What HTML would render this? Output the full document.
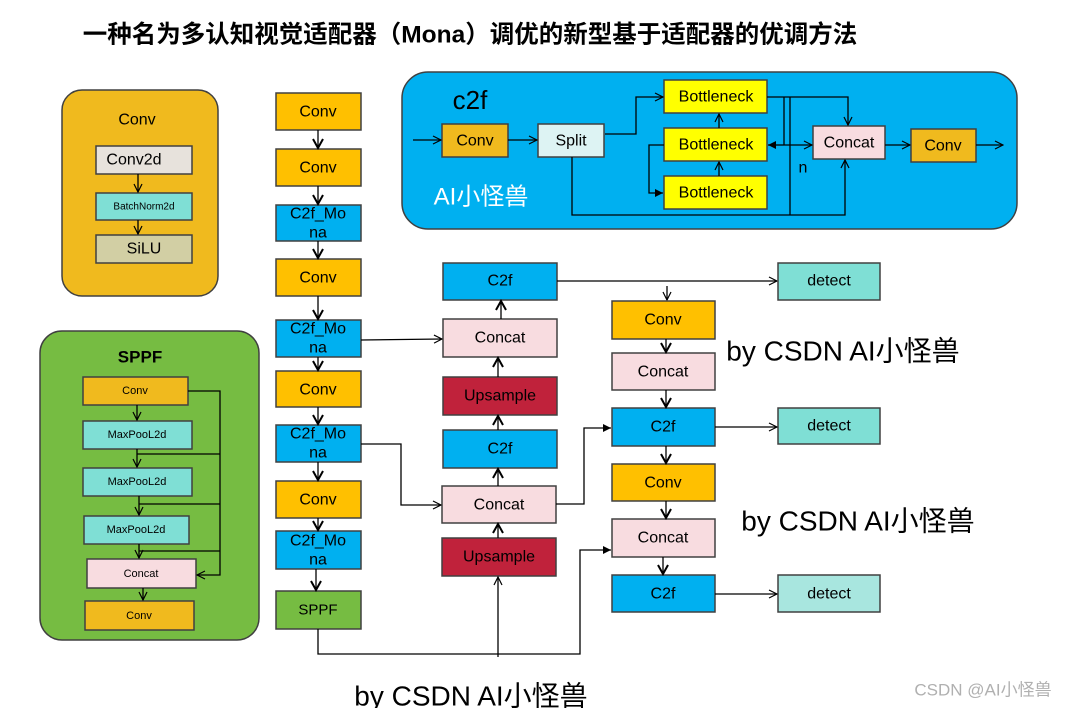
<!DOCTYPE html>
<html><head><meta charset="utf-8"><style>
html,body{margin:0;padding:0;background:#fff;}
svg{display:block;font-family:"Liberation Sans","Noto Sans CJK SC",sans-serif;}
.b{stroke:#404040;stroke-width:1.5;}
.l{stroke:#000;stroke-width:1.3;fill:none;}
text{text-anchor:middle;dominant-baseline:central;fill:#000;}
</style></head><body>
<svg width="1066" height="708" viewBox="0 0 1066 708" xmlns="http://www.w3.org/2000/svg">
<defs>
<marker id="o" markerWidth="10" markerHeight="10" refX="9" refY="5" orient="auto" markerUnits="userSpaceOnUse"><path d="M1,1 L9,5 L1,9" fill="none" stroke="#000" stroke-width="1.2"/></marker>
<marker id="f" markerWidth="10" markerHeight="10" refX="9" refY="5" orient="auto" markerUnits="userSpaceOnUse"><path d="M1,1 L9,5 L1,9z" fill="#000"/></marker>
<marker id="t" markerWidth="12" markerHeight="12" refX="10" refY="6" orient="auto" markerUnits="userSpaceOnUse"><path d="M1,1 L10,6 L1,11" fill="none" stroke="#000" stroke-width="2"/></marker>
</defs>
<text x="470" y="35" font-size="24.5" font-weight="bold">一种名为多认知视觉适配器（Mona）调优的新型基于适配器的优调方法</text>

<!-- Conv panel -->
<rect x="62" y="90" width="156" height="206" rx="20" fill="#F0BA1E" class="b"/>
<text x="137" y="120" font-size="16">Conv</text>
<rect x="96" y="146" width="96" height="28" fill="#E7E2DC" class="b"/><text x="134" y="160" font-size="16">Conv2d</text>
<rect x="96" y="193" width="96" height="27" fill="#7FDFD5" class="b"/><text x="144" y="207" font-size="10">BatchNorm2d</text>
<rect x="96" y="235" width="96" height="28" fill="#D2CFA4" class="b"/><text x="144" y="249" font-size="16">SiLU</text>
<line x1="138" y1="174" x2="138" y2="192" class="l" marker-end="url(#o)"/>
<line x1="138" y1="220" x2="138" y2="234" class="l" marker-end="url(#o)"/>

<!-- SPPF panel -->
<rect x="40" y="331" width="219" height="309" rx="22" fill="#76BC42" class="b"/>
<text x="140" y="357" font-size="17" font-weight="bold" fill="#1a1a1a">SPPF</text>
<rect x="83" y="377" width="105" height="28" fill="#F0BA1E" class="b"/><text x="135" y="391" font-size="11">Conv</text>
<rect x="83" y="421" width="109" height="28" fill="#7FDFD5" class="b"/><text x="137" y="435" font-size="11">MaxPooL2d</text>
<rect x="83" y="468" width="109" height="28" fill="#7FDFD5" class="b"/><text x="137" y="482" font-size="11">MaxPooL2d</text>
<rect x="84" y="516" width="105" height="28" fill="#7FDFD5" class="b"/><text x="136" y="530" font-size="11">MaxPooL2d</text>
<rect x="87" y="559" width="109" height="29" fill="#F8DCE0" class="b"/><text x="141" y="574" font-size="11">Concat</text>
<rect x="85" y="601" width="109" height="29" fill="#F0BA1E" class="b"/><text x="139" y="616" font-size="11">Conv</text>
<polyline points="188,391 220,391 220,575 197,575" class="l" marker-end="url(#o)"/>
<line x1="137" y1="405" x2="137" y2="420" class="l" marker-end="url(#o)"/>
<line x1="137" y1="449" x2="137" y2="467" class="l" marker-end="url(#o)"/>
<line x1="139" y1="496" x2="139" y2="515" class="l" marker-end="url(#o)"/>
<line x1="139" y1="544" x2="139" y2="558" class="l" marker-end="url(#o)"/>
<line x1="143" y1="588" x2="143" y2="600" class="l" marker-end="url(#o)"/>
<line x1="137" y1="454" x2="220" y2="454" class="l"/>
<line x1="139" y1="504" x2="220" y2="504" class="l"/>
<line x1="139" y1="551" x2="220" y2="551" class="l"/>

<!-- main column -->
<g font-size="16">
<rect x="276" y="93" width="85" height="37" fill="#FFC000" class="b"/><text x="318" y="112">Conv</text>
<rect x="276" y="149" width="85" height="37" fill="#FFC000" class="b"/><text x="318" y="168">Conv</text>
<rect x="276" y="205" width="85" height="36" fill="#00B0F0" class="b"/><text x="318" y="214">C2f_Mo</text><text x="318" y="233">na</text>
<rect x="276" y="259" width="85" height="37" fill="#FFC000" class="b"/><text x="318" y="278">Conv</text>
<rect x="276" y="320" width="85" height="37" fill="#00B0F0" class="b"/><text x="318" y="329">C2f_Mo</text><text x="318" y="348">na</text>
<rect x="276" y="371" width="85" height="36" fill="#FFC000" class="b"/><text x="318" y="390">Conv</text>
<rect x="276" y="425" width="85" height="37" fill="#00B0F0" class="b"/><text x="318" y="434">C2f_Mo</text><text x="318" y="453">na</text>
<rect x="276" y="481" width="85" height="37" fill="#FFC000" class="b"/><text x="318" y="500">Conv</text>
<rect x="276" y="531" width="85" height="38" fill="#00B0F0" class="b"/><text x="318" y="541">C2f_Mo</text><text x="318" y="560">na</text>
<rect x="276" y="591" width="85" height="38" fill="#76BC42" class="b"/><text x="318" y="610" font-size="15">SPPF</text>
</g>
<g class="l" stroke-width="2">
<line x1="318" y1="130" x2="318" y2="148" marker-end="url(#t)"/>
<line x1="318" y1="186" x2="318" y2="204" marker-end="url(#t)"/>
<line x1="318" y1="241" x2="318" y2="258" marker-end="url(#t)"/>
<line x1="318" y1="296" x2="318" y2="319" marker-end="url(#t)"/>
<line x1="318" y1="357" x2="318" y2="370" marker-end="url(#t)"/>
<line x1="318" y1="407" x2="318" y2="424" marker-end="url(#t)"/>
<line x1="318" y1="462" x2="318" y2="480" marker-end="url(#t)"/>
<line x1="318" y1="518" x2="318" y2="530" marker-end="url(#t)"/>
<line x1="316" y1="569" x2="316" y2="590" marker-end="url(#t)"/>
</g>

<!-- middle column -->
<g font-size="16">
<rect x="443" y="263" width="114" height="37" fill="#00B0F0" class="b"/><text x="500" y="281">C2f</text>
<rect x="443" y="319" width="114" height="38" fill="#F8DCE0" class="b"/><text x="500" y="338">Concat</text>
<rect x="443" y="377" width="114" height="38" fill="#C0223B" class="b"/><text x="500" y="396">Upsample</text>
<rect x="443" y="430" width="114" height="38" fill="#00B0F0" class="b"/><text x="500" y="449">C2f</text>
<rect x="442" y="486" width="114" height="37" fill="#F8DCE0" class="b"/><text x="499" y="505">Concat</text>
<rect x="442" y="538" width="114" height="38" fill="#C0223B" class="b"/><text x="499" y="557">Upsample</text>
</g>
<g class="l" stroke-width="2">
<line x1="501" y1="319" x2="501" y2="301" marker-end="url(#t)"/>
<line x1="498" y1="377" x2="498" y2="358" marker-end="url(#t)"/>
<line x1="498" y1="430" x2="498" y2="416" marker-end="url(#t)"/>
<line x1="498" y1="486" x2="498" y2="469" marker-end="url(#t)"/>
<line x1="498" y1="538" x2="498" y2="524" marker-end="url(#t)"/>
</g>
<line x1="361" y1="340" x2="442" y2="339" class="l" marker-end="url(#o)"/>
<polyline points="361,444 401,444 401,505 441,505" class="l" marker-end="url(#o)"/>
<polyline points="318,629 318,654 580,654 580,550 611,550" class="l" stroke="#555" marker-end="url(#f)"/>
<line x1="498" y1="657" x2="498" y2="577" class="l" marker-end="url(#o)"/>
<polyline points="556,504 584,504 584,428 611,428" class="l" stroke="#555" marker-end="url(#f)"/>
<line x1="557" y1="281" x2="777" y2="281" class="l" marker-end="url(#o)"/>
<line x1="667" y1="286" x2="667" y2="300" class="l" marker-end="url(#o)"/>

<!-- right column -->
<g font-size="16">
<rect x="612" y="301" width="103" height="38" fill="#FFC000" class="b"/><text x="663" y="320">Conv</text>
<rect x="612" y="353" width="103" height="37" fill="#F8DCE0" class="b"/><text x="663" y="372">Concat</text>
<rect x="612" y="408" width="103" height="38" fill="#00B0F0" class="b"/><text x="663" y="427">C2f</text>
<rect x="612" y="464" width="103" height="37" fill="#FFC000" class="b"/><text x="663" y="483">Conv</text>
<rect x="612" y="519" width="103" height="38" fill="#F8DCE0" class="b"/><text x="663" y="538">Concat</text>
<rect x="612" y="575" width="103" height="37" fill="#00B0F0" class="b"/><text x="663" y="594">C2f</text>
<rect x="778" y="263" width="102" height="37" fill="#7FDFD5" class="b"/><text x="829" y="281">detect</text>
<rect x="778" y="408" width="102" height="36" fill="#7FDFD5" class="b"/><text x="829" y="426">detect</text>
<rect x="778" y="575" width="102" height="37" fill="#A8E6DF" class="b"/><text x="829" y="594">detect</text>
</g>
<g class="l" stroke-width="2">
<line x1="666" y1="339" x2="666" y2="352" marker-end="url(#t)"/>
<line x1="666" y1="390" x2="666" y2="407" marker-end="url(#t)"/>
<line x1="666" y1="446" x2="666" y2="463" marker-end="url(#t)"/>
<line x1="666" y1="501" x2="666" y2="518" marker-end="url(#t)"/>
<line x1="663" y1="557" x2="663" y2="574" marker-end="url(#t)"/>
</g>
<line x1="715" y1="427" x2="777" y2="427" class="l" marker-end="url(#o)"/>
<line x1="715" y1="594" x2="777" y2="594" class="l" marker-end="url(#o)"/>

<text x="843" y="351" font-size="28">by CSDN AI小怪兽</text>
<text x="858" y="521" font-size="28">by CSDN AI小怪兽</text>
<text x="471" y="696" font-size="28">by CSDN AI小怪兽</text>
<text x="983" y="690" font-size="17" style="fill:#b0b0b0">CSDN @AI小怪兽</text>

<!-- c2f panel -->
<rect x="402" y="72" width="615" height="157" rx="26" fill="#00B0F0" class="b"/>
<text x="470" y="100" font-size="26">c2f</text>
<text x="481" y="197" font-size="24" style="fill:#fff">AI小怪兽</text>
<g font-size="16">
<rect x="442" y="124" width="66" height="33" fill="#F0BA1E" class="b"/><text x="475" y="141">Conv</text>
<rect x="538" y="124" width="66" height="33" fill="#DDF3F3" class="b"/><text x="571" y="141">Split</text>
<rect x="664" y="80" width="103" height="33" fill="#FFFF00" class="b"/><text x="716" y="97">Bottleneck</text>
<rect x="664" y="128" width="103" height="33" fill="#FFFF00" class="b"/><text x="716" y="145">Bottleneck</text>
<rect x="664" y="176" width="103" height="33" fill="#FFFF00" class="b"/><text x="716" y="193">Bottleneck</text>
<rect x="813" y="126" width="72" height="33" fill="#F8DCE0" class="b"/><text x="849" y="143">Concat</text>
<rect x="911" y="129" width="65" height="33" fill="#F0BA1E" class="b"/><text x="943" y="146">Conv</text>
<text x="803" y="168">n</text>
</g>
<line x1="413" y1="140" x2="441" y2="140" class="l" marker-end="url(#o)"/>
<line x1="508" y1="140" x2="537" y2="140" class="l" marker-end="url(#o)"/>
<polyline points="605,134 636,134 636,97 663,97" class="l" marker-end="url(#o)"/>
<polyline points="767,97 848,97 848,125" class="l" marker-end="url(#o)"/>
<line x1="784" y1="97" x2="784" y2="145" class="l"/>
<line x1="790" y1="97" x2="790" y2="215" class="l"/>
<line x1="784" y1="145" x2="768" y2="145" class="l" marker-end="url(#f)"/>
<line x1="784" y1="145" x2="812" y2="145" class="l" marker-end="url(#o)"/>
<polyline points="572,157 572,215 845,215 845,160" class="l" marker-end="url(#o)"/>
<polyline points="664,145 649,145 649,193 663,193" class="l" marker-end="url(#f)"/>
<line x1="719" y1="176" x2="719" y2="162" class="l" marker-end="url(#o)"/>
<line x1="719" y1="128" x2="719" y2="114" class="l" marker-end="url(#o)"/>
<line x1="885" y1="145" x2="910" y2="145" class="l" marker-end="url(#o)"/>
<line x1="976" y1="145" x2="1003" y2="145" class="l" marker-end="url(#o)"/>
</svg>
</body></html>
